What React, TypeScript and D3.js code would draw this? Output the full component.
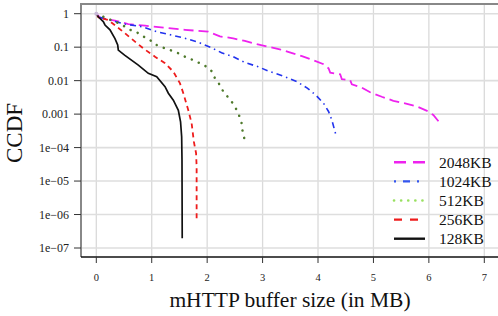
import React from 'react';
import * as d3 from 'd3';

const width = 498;
const height = 316;

// tick values
const xTicks = [0, 1, 2, 3, 4, 5, 6, 7];
const yTicks = [1, 0.1, 0.01, 0.001, 1e-4, 1e-5, 1e-6, 1e-7];
const yTickLabels = ['1', '0.1', '0.01', '0.001', '1e\u221204', '1e\u221205', '1e\u221206', '1e\u221207'];

// [buffer size MB, ccdf]
const kb128 = [
  [0, 1], [0.036, 0.81], [0.126, 0.58], [0.157, 0.46], [0.247, 0.33], [0.337, 0.18],
  [0.386, 0.116], [0.397, 0.082], [0.51, 0.058], [0.758, 0.029], [0.938, 0.0165],
  [1.09, 0.0131], [1.24, 0.0066], [1.3, 0.0042], [1.39, 0.0026], [1.48, 0.0013],
  [1.52, 5.9e-4], [1.54, 2.1e-4], [1.546, 4.3e-5], [1.55, 1.95e-7],
];
const kb256 = [
  [0, 1], [0.036, 0.78], [0.216, 0.65], [0.368, 0.41], [0.518, 0.26], [0.698, 0.146],
  [0.848, 0.092], [1.059, 0.052], [1.24, 0.033], [1.39, 0.0185], [1.51, 0.0083],
  [1.57, 0.0042], [1.66, 0.0013], [1.72, 5.3e-4], [1.76, 1.5e-4], [1.8, 6.8e-5],
  [1.81, 2.7e-5], [1.81, 7.7e-7],
];
const kb512 = [
  [0, 1], [0.2, 0.72], [0.368, 0.55], [0.487, 0.44], [0.608, 0.33], [0.729, 0.28],
  [0.848, 0.21], [0.969, 0.164], [1.059, 0.122], [1.209, 0.096], [1.33, 0.082],
  [1.48, 0.066], [1.6, 0.052], [1.75, 0.041], [1.87, 0.033], [1.99, 0.026],
  [2.09, 0.0186], [2.14, 0.0118], [2.23, 0.0074], [2.3, 0.0044], [2.41, 0.0028],
  [2.5, 0.0017], [2.57, 9.8e-4], [2.62, 5.5e-4], [2.64, 3.0e-4], [2.68, 1.6e-4],
];
const kb1024 = [
  [0, 1], [0.036, 0.81], [0.278, 0.62], [0.518, 0.49], [0.819, 0.41], [1.09, 0.29],
  [1.36, 0.23], [1.6, 0.184], [1.84, 0.14], [2.08, 0.096], [2.26, 0.068], [2.47, 0.052],
  [2.68, 0.035], [2.92, 0.026], [3.13, 0.0186], [3.37, 0.0138], [3.62, 0.0093],
  [3.8, 0.0061], [3.96, 0.0037], [4.1, 0.0021], [4.19, 0.0012], [4.25, 6.6e-4],
  [4.32, 2.5e-4],
];
const kb2048 = [
  [0, 1], [0.067, 0.76], [0.337, 0.62], [0.577, 0.49], [0.879, 0.44], [1.24, 0.38],
  [1.6, 0.33], [2.02, 0.29], [2.23, 0.21], [2.47, 0.184], [2.68, 0.153], [2.89, 0.124],
  [3.1, 0.103], [3.31, 0.086], [3.49, 0.07], [3.71, 0.054], [3.91, 0.041], [4.1, 0.031],
  [4.19, 0.0234], [4.22, 0.0173], [4.4, 0.0155], [4.43, 0.011], [4.58, 0.0104],
  [4.61, 0.0078], [4.79, 0.0062], [4.94, 0.0045], [5.15, 0.0033], [5.36, 0.0025],
  [5.57, 0.0021], [5.78, 0.0017], [5.99, 0.0012], [6.08, 9.4e-4], [6.23, 4.7e-4],
];

const series = [
  { name: '2048KB', data: kb2048, color: '#ee22ee', legendColor: '#ee22ee', dash: '10 5', legendDash: '12 7', w: 1.8, cap: 'butt' },
  { name: '1024KB', data: kb1024, color: '#2233ee', legendColor: '#3355ee', dash: '1.5 4 6 4', legendDash: '2 7 7 7', w: 1.6, cap: 'butt' },
  { name: '512KB', data: kb512, color: '#4f7a2c', legendColor: '#99e060', dash: '0.1 7.5', legendDash: '0.1 7', w: 2.5, cap: 'round' },
  { name: '256KB', data: kb256, color: '#ee1c1c', legendColor: '#ee1c1c', dash: '5 4', legendDash: '8 8', w: 1.8, cap: 'butt' },
  { name: '128KB', data: kb128, color: '#111111', legendColor: '#111111', dash: null, legendDash: null, w: 1.7, cap: 'butt' },
];

const x = d3.scaleLinear().domain([0, 7]).range([96.3, 484.3]);
const y = d3.scaleLog().domain([1, 1e-7]).range([13.7, 248]);

const left = 81;
const top = 4;
const bottom = 257;

const font = '"Liberation Serif", "DejaVu Serif", serif';

export default function App() {
  const line = d3
    .line<number[]>()
    .x((d) => x(d[0]))
    .y((d) => y(d[1]));

  return (
    <svg
      width={width}
      height={height}
      style={{ position: 'absolute', left: 0, top: 0, background: '#fff' }}
    >
      {/* grid */}
      {xTicks.map((t) => (
        <line key={'gx' + t} x1={x(t)} x2={x(t)} y1={top} y2={bottom} stroke="#dadada" strokeWidth={1.3} />
      ))}
      {yTicks.map((t) => (
        <line key={'gy' + t} x1={left} x2={width} y1={y(t)} y2={y(t)} stroke="#dedede" strokeWidth={1.6} />
      ))}

      {/* frame */}
      <line x1={left} x2={width} y1={top} y2={top} stroke="#888" strokeWidth={2} />
      <line x1={left} x2={left} y1={top - 1} y2={bottom} stroke="#888" strokeWidth={2} />
      <line x1={left} x2={width} y1={bottom} y2={bottom} stroke="#111" strokeWidth={1.4} />

      {/* y axis */}
      {yTicks.map((t, i) => (
        <g key={'yt' + t}>
          <line x1={74} x2={left} y1={y(t)} y2={y(t)} stroke="#333" strokeWidth={1} />
          <text x={69} y={y(t) + 4} textAnchor="end" fontFamily={font} fontSize={12} fill="#222">
            {yTickLabels[i]}
          </text>
        </g>
      ))}

      {/* x axis */}
      {xTicks.map((t) => (
        <g key={'xt' + t}>
          <line x1={x(t)} x2={x(t)} y1={bottom} y2={bottom + 6} stroke="#333" strokeWidth={1} />
          <text x={x(t)} y={280.5} textAnchor="middle" fontFamily={font} fontSize={10.5} fill="#222">
            {t}
          </text>
        </g>
      ))}

      {/* series */}
      {series.map((s) => (
        <path
          key={s.name}
          d={line(s.data as number[][]) || ''}
          fill="none"
          stroke={s.color}
          strokeWidth={s.w}
          strokeDasharray={s.dash || undefined}
          strokeLinecap={s.cap as any}
        />
      ))}
      <circle cx={x(0)} cy={y(1)} r={2} fill="#c8b8d8" />

      {/* axis titles */}
      <text
        transform={`translate(22, 133) rotate(-90)`}
        textAnchor="middle"
        fontFamily={font}
        fontSize={23}
        fill="#111"
      >
        CCDF
      </text>
      <text x={290} y={306.5} textAnchor="middle" fontFamily={font} fontSize={21.5} fill="#111">
        mHTTP buffer size (in MB)
      </text>

      {/* legend */}
      {series.map((s, i) => {
        const cy = 162.3 + i * 19.1;
        return (
          <g key={'lg' + s.name}>
            <line
              x1={394}
              x2={425}
              y1={cy}
              y2={cy}
              stroke={s.legendColor}
              strokeWidth={s.name === '512KB' ? 2.6 : 2.4}
              strokeDasharray={s.legendDash || undefined}
              strokeLinecap={s.cap as any}
            />
            <text x={439} y={cy + 5.3} fontFamily={font} fontSize={15.5} fill="#111">
              {s.name}
            </text>
          </g>
        );
      })}
    </svg>
  );
}
